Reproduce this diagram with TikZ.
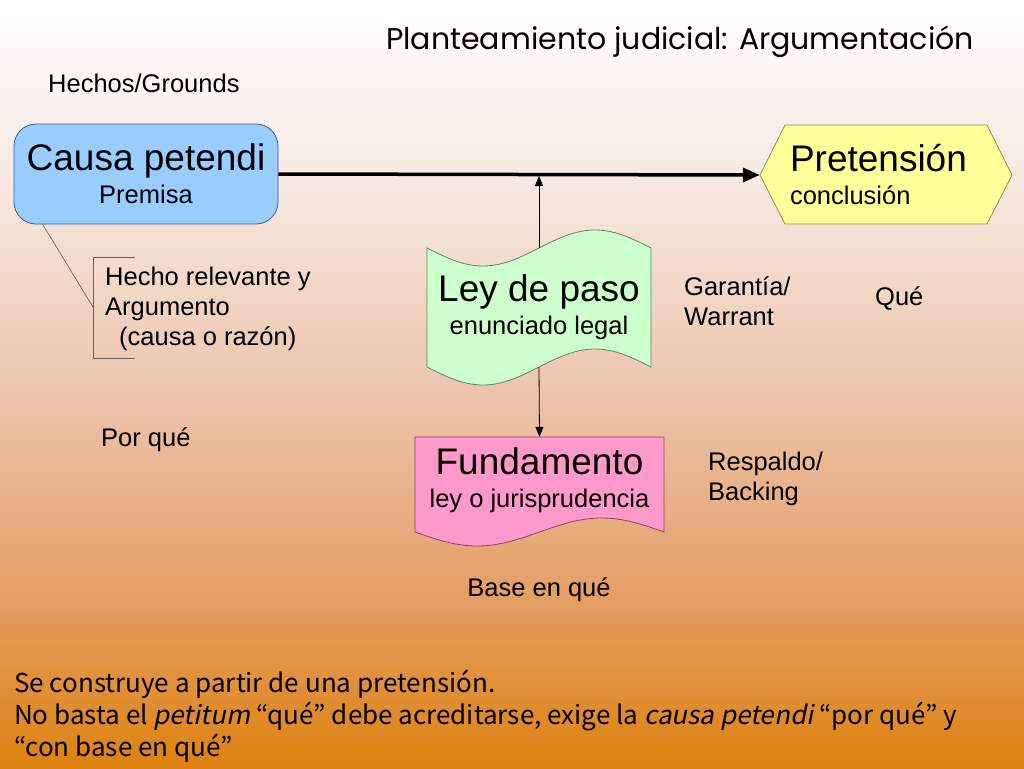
\documentclass[tikz,border=0pt]{standalone}
\usepackage{fontspec}
\setmainfont{Liberation Sans}
\newfontfamily\titlefont{Poppins}
\newfontfamily\notefont{Noto Sans CJK JP}[ItalicFont={Noto Sans CJK JP},ItalicFeatures={FakeSlant=0.2}]
\usetikzlibrary{arrows.meta}

\definecolor{causafill}{HTML}{99CCFF}
\definecolor{causaline}{HTML}{3F5F7F}
\definecolor{pretfill}{HTML}{FFFF99}
\definecolor{pretline}{HTML}{8C8C5A}
\definecolor{leyfill}{HTML}{CCFFCC}
\definecolor{leyline}{HTML}{5F8268}
\definecolor{fundfill}{HTML}{FF99CC}
\definecolor{fundline}{HTML}{85466A}
\definecolor{bracketgray}{HTML}{6E5E55}
\definecolor{bgA}{HTML}{DE8210}
\definecolor{bgB}{HTML}{E49E64}
\definecolor{bgC}{HTML}{ECC3AA}
\definecolor{bgD}{HTML}{F6E6DE}
\definecolor{bgE}{HTML}{FFFFFF}

\pgfdeclareverticalshading{slidebg}{100bp}{color(0bp)=(bgA); color(25bp)=(bgA); color(36bp)=(bgB); color(49bp)=(bgC); color(62bp)=(bgD); color(75bp)=(bgE); color(100bp)=(bgE)}

\pgfdeclarelayer{bg}
\pgfdeclarelayer{back}
\pgfsetlayers{bg,back,main}

\newcommand{\txtsmall}{\fontsize{25.5}{30}\selectfont}

\begin{document}
\begin{tikzpicture}[x=1pt, y=-1pt,
  every node/.style={inner sep=0pt},
  bigtxt/.style={font=\fontsize{37}{33}\selectfont, align=center},
  smalltxt/.style={font=\txtsmall, align=left},
  causabox/.style={draw=causaline, fill=causafill, line width=0.8pt, rounded corners=22pt,
    minimum width=264pt, minimum height=100pt},
  mainarrow/.style={line width=3.5pt, -{Triangle[length=17pt,width=14pt]}},
  warrantline/.style={line width=0.8pt, -{Triangle[length=10pt,width=8pt]}},
  bracketline/.style={draw=bracketgray, line width=0.7pt}]
  \useasboundingbox (0,0) rectangle (1024,768);
  \begin{pgfonlayer}{bg}
    \shade[shading=slidebg] (0,0) rectangle (1024,768);
  \end{pgfonlayer}

  \node[font=\titlefont\fontsize{30}{32}\selectfont] (title) at (680,42) {Planteamiento judicial: Argumentación};
  \node[smalltxt, anchor=west] (grounds) at (48,83) {Hechos/Grounds};

  % main boxes
  \node[causabox, bigtxt] (causa) at (146,174) {Causa petendi\\{\txtsmall Premisa}};
  \node[bigtxt, align=left, text width=192pt, minimum width=252pt, minimum height=99pt] (pret) at (886,175)
    {Pretensión\\{\txtsmall conclusión}};
  \node[bigtxt, minimum width=224pt, minimum height=119pt] (ley) at (539,307.5) {Ley de paso\\{\txtsmall enunciado legal}};
  \node[bigtxt, minimum width=249pt, minimum height=87pt] (fund) at (539.5,480.5) {Fundamento\\{\txtsmall ley o jurisprudencia}};

  \begin{pgfonlayer}{back}
    \draw[draw=pretline, fill=pretfill, line width=0.8pt] (785,125) -- (987,125) -- (1012,175) -- (987,224) -- (785,224) -- (760,175) -- cycle;
    \draw[draw=leyline, fill=leyfill, line width=0.8pt] (427,248) sin (483,266) cos (539,248) sin (595,230) cos (651,248)
      -- (651,367) sin (595,349) cos (539,367) sin (483,385) cos (427,367) -- cycle;
    \draw[draw=fundline, fill=fundfill, line width=0.8pt] (415,437) -- (664,437) -- (664,532)
      sin (601.75,518) cos (539.5,532) sin (477.25,546) cos (415,532) -- cycle;
  \end{pgfonlayer}

  % connectors
  \coordinate (onarrow) at ([yshift=-2pt]ley.north |- causa.east);
  \draw[mainarrow] (causa.east) -- (pret.west);
  \draw[warrantline] (ley.north) -- (onarrow);
  \draw[warrantline] (ley.south) -- (fund.north);

  % bracket for the grounds
  \coordinate (brmid) at (93,307);
  \draw[bracketline] (135,257) -- (93,257) -- (93,358) -- (135,358);
  \draw[bracketline] (causa.206) -- (brmid);
  \node[smalltxt, anchor=west] (hecho) at (105,309) {Hecho relevante y\\Argumento\\\hspace*{14pt}(causa o razón)};

  \node[smalltxt, anchor=west] (garantia) at (684,301) {Garantía/\\Warrant};
  \node[smalltxt, anchor=west] (que) at (875,299) {Qué};
  \node[smalltxt, anchor=west] (porque) at (101,440) {Por qué};
  \node[smalltxt, anchor=west] (respaldo) at (708,479) {Respaldo/\\Backing};
  \node[smalltxt] (base) at (539,590) {Base en qué};

  \node[font=\notefont\fontsize{26}{32}\selectfont, align=left, anchor=west] (nota) at (14,716)
    {Se construye a partir de una pretensión.\\No basta el \textit{petitum} “qué” debe acreditarse, exige la \textit{causa petendi} “por qué” y\\“con base en qué”};
\end{tikzpicture}
\end{document}
